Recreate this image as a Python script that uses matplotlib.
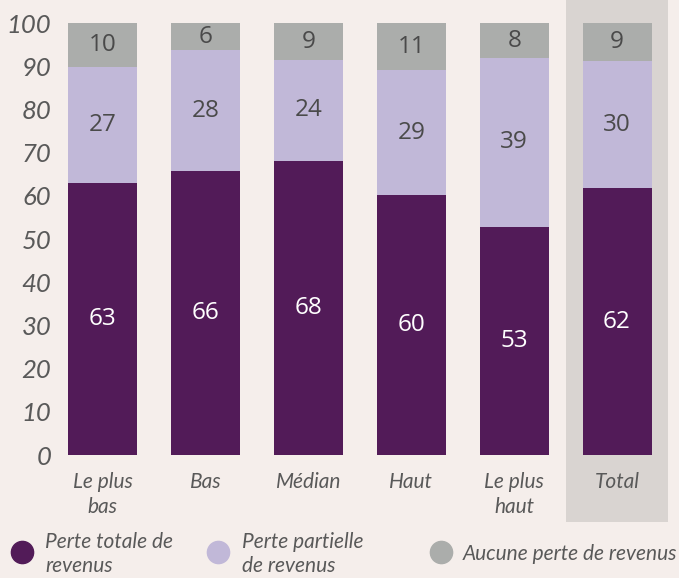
import matplotlib.pyplot as plt
from matplotlib.patches import Rectangle
from matplotlib.lines import Line2D

# stacked shares (%), labels as printed on the bars
categories = ["Le plus\nbas", "Bas", "Médian", "Haut", "Le plus\nhaut", "Total"]
perte_totale = [63.0, 65.7, 68.1, 60.2, 52.8, 61.8]
perte_partielle = [26.8, 28.0, 23.3, 28.9, 39.1, 29.4]
aucune_perte = [10.2, 6.3, 8.6, 10.9, 8.1, 8.8]
labels_totale = [63, 66, 68, 60, 53, 62]
labels_partielle = [27, 28, 24, 29, 39, 30]
labels_aucune = [10, 6, 9, 11, 8, 9]
legend_labels = ["Perte totale de\nrevenus", "Perte partielle\nde revenus", "Aucune perte de revenus"]

bg = "#f5eeeb"
c_dark = "#521b58"
c_light = "#c1b8d8"
c_gray = "#abadab"
band = "#d9d4d1"
txt = "#595959"

fig = plt.figure(figsize=(6.79, 5.78), dpi=100, facecolor=bg)
ax = fig.add_axes([0.0758, 0.2128, 0.9087, 0.7474])
ax.set_facecolor(bg)

x = list(range(len(categories)))
w = 0.67

# grey band behind the Total column
ax.add_patch(Rectangle((4.5, -15.5), 1.0, 121.0, facecolor=band, edgecolor="none",
                       clip_on=False, zorder=0))

bottom2 = perte_totale
bottom3 = [a + b for a, b in zip(perte_totale, perte_partielle)]
ax.bar(x, perte_totale, w, color=c_dark, zorder=2)
ax.bar(x, perte_partielle, w, bottom=bottom2, color=c_light, zorder=2)
ax.bar(x, aucune_perte, w, bottom=bottom3, color=c_gray, zorder=2)

lab_font = dict(fontsize=17.5, family="Open Sans", ha="center", va="center", zorder=3)
for i in x:
    ax.text(i, perte_totale[i] / 2, str(labels_totale[i]), color="white", **lab_font)
    ax.text(i, bottom2[i] + perte_partielle[i] / 2, str(labels_partielle[i]), color="#4a4a4a", **lab_font)
    ax.text(i, bottom3[i] + aucune_perte[i] / 2, str(labels_aucune[i]), color="#4a4a4a", **lab_font)

ax.set_xlim(-0.5, 5.5)
ax.set_ylim(0, 100)
ax.set_yticks(range(0, 101, 10))
ax.set_xticks(x)
ax.set_xticklabels(categories, fontsize=15, family="Lato", style="italic", color=txt,
                   linespacing=1.35, va="top")
ax.set_yticklabels([str(v) for v in range(0, 101, 10)], fontsize=18.5, family="Lato",
                   style="italic", color=txt)
ax.tick_params(length=0)
ax.tick_params(axis="x", pad=12)
ax.tick_params(axis="y", pad=0)
for s in ax.spines.values():
    s.set_visible(False)

# legend drawn by hand
H, W = 578, 679
markers = [(22, c_dark, 45), (218, c_light, 242), (441, c_gray, 463)]
for (mx, col, tx), lab in zip(markers, legend_labels):
    fig.add_artist(Line2D([mx / W], [1 - 552 / H], marker="o", ms=16, color=col,
                          linestyle="none", transform=fig.transFigure))
    fig.text(tx / W, 1 - 554 / H, lab, fontsize=15, family="Lato", style="italic",
             color=txt, va="center", ha="left", linespacing=1.2)

fig.savefig("out.png", dpi=100, facecolor=bg)
